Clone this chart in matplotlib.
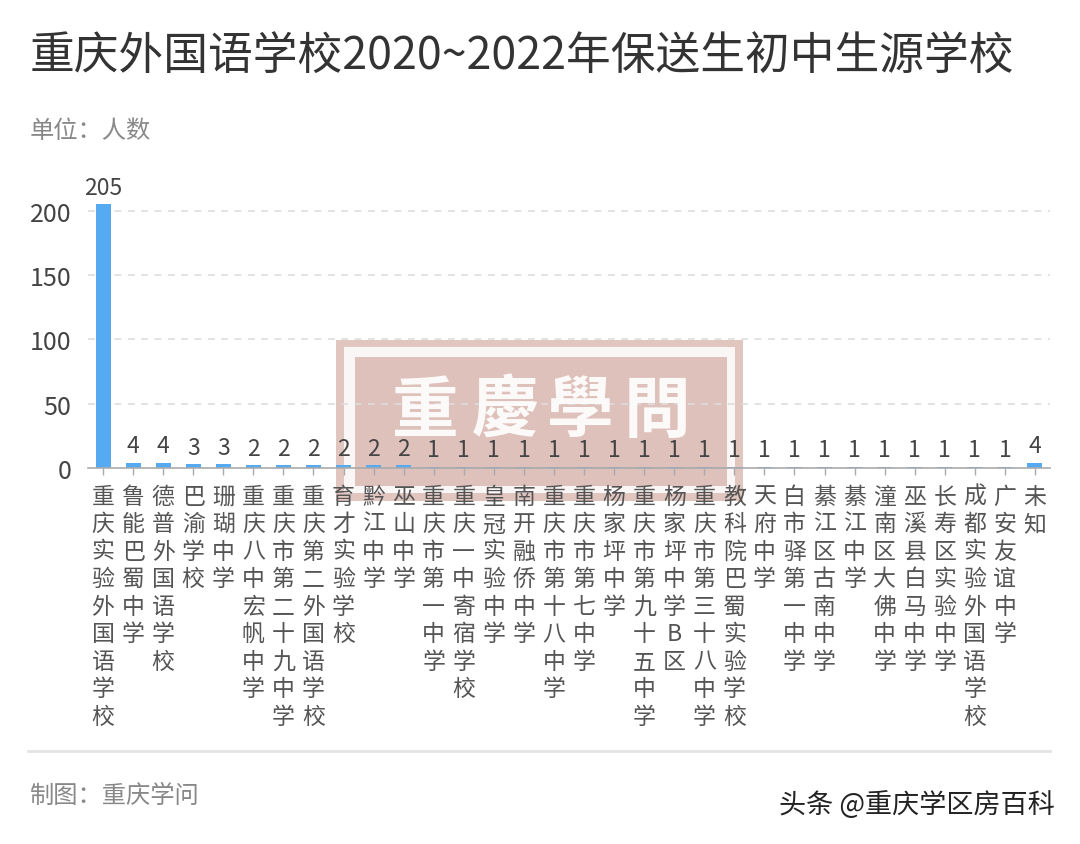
import numpy as np
import matplotlib.pyplot as plt
from matplotlib.patches import Rectangle

plt.rcParams['font.family'] = ['Noto Sans CJK SC', 'DejaVu Sans']

# data
schools = ["重庆实验外国语学校", "鲁能巴蜀中学", "德普外国语学校", "巴渝学校", "珊瑚中学",
           "重庆八中宏帆中学", "重庆市第二十九中学", "重庆第二外国语学校", "育才实验学校",
           "黔江中学", "巫山中学", "重庆市第一中学", "重庆一中寄宿学校", "皇冠实验中学",
           "南开融侨中学", "重庆市第十八中学", "重庆市第七中学", "杨家坪中学",
           "重庆市第九十五中学", "杨家坪中学B区", "重庆市第三十八中学", "教科院巴蜀实验学校",
           "天府中学", "白市驿第一中学", "綦江区古南中学", "綦江中学", "潼南区大佛中学",
           "巫溪县白马中学", "长寿区实验中学", "成都实验外国语学校", "广安友谊中学", "未知"]
counts = [205, 4, 4, 3, 3, 2, 2, 2, 2, 2, 2, 1, 1, 1, 1, 1, 1, 1, 1, 1, 1, 1,
          1, 1, 1, 1, 1, 1, 1, 1, 1, 4]
yticks = [0, 50, 100, 150, 200]

W, H = 1080, 845
fig = plt.figure(figsize=(W / 100, H / 100), dpi=100)
fig.patch.set_facecolor('white')

ax = fig.add_axes([88 / W, 1 - 469 / H, 962 / W, 270 / H])
ax.set_zorder(10)
ax.patch.set_alpha(0)
x = np.arange(len(schools))
ax.bar(x, counts, width=0.5, color='#55aaf2', zorder=2)
ax.set_xlim(-0.5, len(schools) - 0.5)
ax.set_ylim(0, 210)

for xi, v in zip(x, counts):
    ax.annotate(str(v), (xi, v), xytext=(0, 4), textcoords='offset points',
                ha='center', va='bottom', fontsize=16.5, color='#444444', zorder=3)

ax.set_yticks(yticks)
ax.set_yticklabels([str(t) for t in yticks], fontsize=18, color='#444444')
for t in yticks[1:]:
    ax.axhline(t, color='#dddddd', lw=1.2, ls=(0, (4, 4)), zorder=1)

ax.set_xticks(x)
ax.set_xticklabels([])
ax.tick_params(axis='x', length=5, width=1, color='#aaaaaa', direction='out')
ax.tick_params(axis='y', length=0, pad=12)
for s in ['top', 'right', 'left']:
    ax.spines[s].set_visible(False)
ax.spines['bottom'].set_color('#aaaaaa')
ax.spines['bottom'].set_linewidth(1.2)

# vertical category labels
for xi, name in zip(x, schools):
    ax.text(xi, -13, '\n'.join(name), ha='center', va='top', fontsize=16.5,
            color='#555555', linespacing=1.25, transform=ax.transData, clip_on=False)

# titles and footer
fig.text(30 / W, 1 - 57 / H, '重庆外国语学校2020~2022年保送生初中生源学校',
         fontsize=32.2, color='#333333', ha='left', va='center')
fig.text(30 / W, 1 - 131 / H, '单位：人数', fontsize=17.5, color='#888888',
         ha='left', va='center')
fig.add_artist(plt.Line2D([28 / W, 1050 / W], [1 - 752 / H, 1 - 752 / H],
                          color='#e3e3e3', lw=2))
fig.text(30 / W, 1 - 796 / H, '制图：重庆学问', fontsize=17.5, color='#888888',
         ha='left', va='center')
fig.text(1055 / W, 1 - 805 / H, '头条 @重庆学区房百科', fontsize=19.5, color='#222222',
         ha='right', va='center')

# stamp watermark
fig.add_artist(Rectangle((336 / W, 1 - 502 / H), 407 / W, 161 / H,
                         transform=fig.transFigure, facecolor='#c9978d', alpha=0.55,
                         edgecolor='none', zorder=5))
fig.add_artist(Rectangle((344 / W, 1 - 494 / H), 391 / W, 146 / H,
                         transform=fig.transFigure, facecolor='white', alpha=0.85,
                         edgecolor='none', zorder=6))
fig.add_artist(Rectangle((355 / W, 1 - 487 / H), 372 / W, 129 / H,
                         transform=fig.transFigure, facecolor='#c9978d', alpha=0.55,
                         edgecolor='none', zorder=7))
for cx, ch in zip([425, 505, 580, 657], '重慶學問'):
    fig.text(cx / W, 1 - 412 / H, ch, family=['Noto Sans CJK TC', 'DejaVu Sans'],
             fontsize=48, fontweight='bold', color='white', alpha=0.92,
             ha='center', va='center', zorder=20)

fig.savefig('out.png', dpi=100)
